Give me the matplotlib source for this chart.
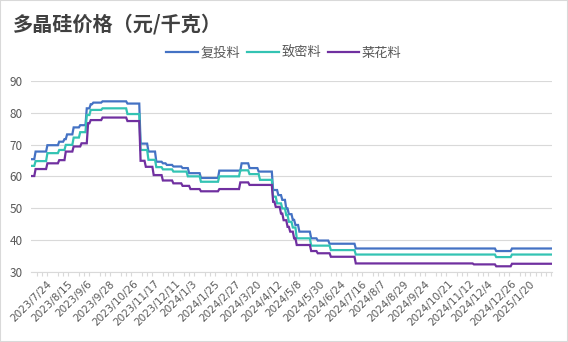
import numpy as np
import matplotlib
matplotlib.use("Agg")
from matplotlib import pyplot as plt
from matplotlib.patches import Rectangle
from matplotlib.ticker import MultipleLocator

plt.rcParams['font.family'] = ['Noto Sans CJK SC', 'DejaVu Sans']

# step data: values and how many trading days each level lasts
fu_vals = [65.4, 67.8, 69.8, 70.9, 71.7, 73.2, 75.4, 76.1, 81.4, 82.7, 83.2, 83.6, 82.9,
           70.3, 67.8, 64.6, 64.1, 63.6, 63.1, 62.6, 61.0, 59.5, 61.8, 64.1, 62.6, 61.5,
           55.7, 54.1, 52.6, 49.9, 48.1, 46.3, 44.7, 42.6, 40.5, 39.8, 38.8, 37.3, 36.5, 37.3]
fu_days = [3, 9, 9, 4, 2, 5, 5, 5, 3, 2, 7, 19, 10,
           6, 6, 5, 3, 5, 7, 5, 9, 14, 17, 6, 7, 11,
           4, 3, 3, 2, 3, 2, 3, 9, 5, 9, 20, 107, 12, 31]

zm_vals = [63.3, 64.8, 67.3, 68.3, 69.9, 72.2, 73.9, 79.3, 80.9, 81.4, 79.6,
           68.3, 65.2, 62.9, 62.2, 61.5, 60.0, 58.3, 60.0, 61.9, 60.7, 58.9,
           53.6, 51.5, 49.9, 47.8, 45.7, 43.9, 40.5, 38.2, 36.8, 35.4, 34.6, 35.4]
zm_days = [3, 9, 9, 5, 6, 5, 5, 3, 9, 19, 10,
           6, 6, 5, 8, 11, 10, 14, 16, 7, 8, 10,
           3, 4, 3, 2, 3, 3, 11, 15, 19, 107, 12, 31]

ch_vals = [60.1, 62.3, 64.1, 65.1, 67.8, 69.4, 70.4, 76.7, 77.7, 78.5, 77.4,
           64.9, 63.0, 60.4, 58.7, 57.8, 57.0, 56.0, 55.3, 56.0, 58.1, 57.3,
           52.0, 50.4, 48.3, 46.2, 44.1, 42.6, 40.5, 38.4, 36.5, 35.8, 34.7,
           32.6, 32.3, 31.7, 32.5]
ch_days = [3, 9, 9, 5, 6, 6, 5, 2, 9, 19, 10,
           4, 6, 7, 8, 7, 6, 8, 14, 16, 7, 18,
           2, 4, 2, 3, 2, 3, 2, 11, 5, 10, 19,
           90, 17, 12, 31]

series_names = ['复投料', '致密料', '菜花料']
series_colors = ['#4472C4', '#33C3B3', '#7030A0']

date_labels = ['2023/7/24', '2023/8/15', '2023/9/6', '2023/9/28', '2023/10/26', '2023/11/17',
               '2023/12/11', '2024/1/3', '2024/1/25', '2024/2/27', '2024/3/20', '2024/4/12',
               '2024/5/8', '2024/5/30', '2024/6/24', '2024/7/16', '2024/8/7', '2024/8/29',
               '2024/9/24', '2024/10/21', '2024/11/12', '2024/12/4', '2024/12/26', '2025/1/20']

fu = np.repeat(fu_vals, fu_days)
zm = np.repeat(zm_vals, zm_days)
ch = np.repeat(ch_vals, ch_days)
n = len(fu)

fig = plt.figure(figsize=(5.68, 3.42), dpi=100)
ax = fig.add_axes([31 / 568, 1 - 271.7 / 342, 521 / 568, (271.7 - 81) / 342])

for ys, name, col in zip([fu, zm, ch], series_names, series_colors):
    ax.plot(np.arange(len(ys)), ys, color=col, lw=1.6, label=name, solid_joinstyle='miter')

ax.set_xlim(-0.5, n - 0.5)
ax.set_ylim(30, 90)
ax.set_yticks(range(30, 91, 10))
ax.grid(axis='y', color='#d9d9d9', lw=0.8)
ax.set_axisbelow(True)
for s in ['left', 'right', 'top']:
    ax.spines[s].set_visible(False)
ax.spines['bottom'].set_color('#d9d9d9')
ax.tick_params(axis='y', length=0, pad=6, labelsize=8.5, labelcolor='#595959')

ax.set_xticks(np.arange(len(date_labels)) * 16)
ax.set_xticklabels(date_labels, rotation=45, ha='center', fontsize=7.5, color='#595959',
                   family='DejaVu Sans')
ax.tick_params(axis='x', which='major', length=0, pad=5)
ax.xaxis.set_minor_locator(MultipleLocator(4))
ax.tick_params(axis='x', which='minor', length=3, color='#d9d9d9', width=0.8)

fig.text(13 / 568, 1 - 24 / 342, '多晶硅价格（元/千克）', fontsize=14.5, fontweight='bold',
         color='#404040', va='center', ha='left')

fig.legend(loc='center', bbox_to_anchor=(0.5, 1 - 53 / 342), ncol=3, frameon=False,
           fontsize=9.5, handlelength=2.4, handletextpad=0.2, columnspacing=0.5,
           labelcolor='#595959')

fig.add_artist(Rectangle((0, 0), 1, 1, transform=fig.transFigure, fill=False,
                         edgecolor='#d9d9d9', lw=1.5))

fig.savefig('out.png', dpi=100)
